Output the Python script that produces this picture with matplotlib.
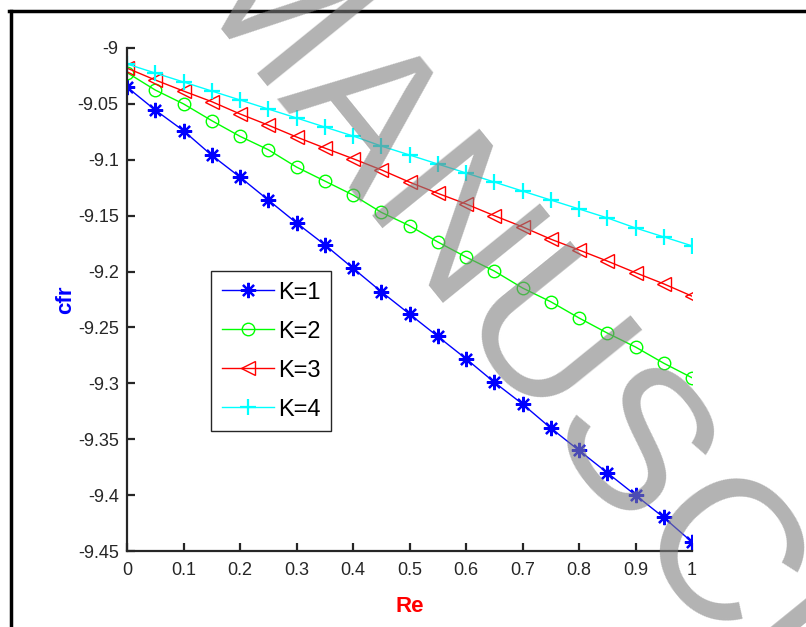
import matplotlib
matplotlib.use('Agg')
import matplotlib.pyplot as plt
from matplotlib import font_manager
from matplotlib.lines import Line2D
from matplotlib.ticker import FixedLocator, FixedFormatter

plt.rcParams['font.family'] = ['Liberation Sans', 'DejaVu Sans']

# Re values (x axis)
re = [0.0, 0.05, 0.1, 0.15, 0.2, 0.25, 0.3, 0.35, 0.4, 0.45, 0.5,
      0.55, 0.6, 0.65, 0.7, 0.75, 0.8, 0.85, 0.9, 0.95, 1.0]

# cfr for each K
cfr_k1 = [-9.035, -9.0555, -9.074, -9.096, -9.1155, -9.136, -9.1565, -9.176,
          -9.197, -9.218, -9.238, -9.258, -9.278, -9.299, -9.3185, -9.340,
          -9.360, -9.380, -9.400, -9.420, -9.442]
cfr_k2 = [-9.022, -9.0376, -9.050, -9.065, -9.079, -9.091, -9.1065, -9.119,
          -9.1315, -9.147, -9.159, -9.1735, -9.187, -9.1995, -9.2147, -9.227,
          -9.2415, -9.255, -9.2675, -9.282, -9.295]
cfr_k3 = [-9.018, -9.0286, -9.0385, -9.048, -9.059, -9.069, -9.0796, -9.0895,
          -9.099, -9.109, -9.120, -9.130, -9.1395, -9.150, -9.160, -9.171,
          -9.1807, -9.1906, -9.201, -9.211, -9.222]
cfr_k4 = [-9.0143, -9.0224, -9.0304, -9.0385, -9.0465, -9.0546, -9.0626,
          -9.0707, -9.0787, -9.0877, -9.0957, -9.1038, -9.1118, -9.1199,
          -9.128, -9.136, -9.144, -9.152, -9.161, -9.169, -9.177]

labels = ['K=1', 'K=2', 'K=3', 'K=4']

xticks = [0, 0.1, 0.2, 0.3, 0.4, 0.5, 0.6, 0.7, 0.8, 0.9, 1]
xtick_labels = ['0', '0.1', '0.2', '0.3', '0.4', '0.5', '0.6', '0.7', '0.8', '0.9', '1']
yticks = [-9, -9.05, -9.1, -9.15, -9.2, -9.25, -9.3, -9.35, -9.4, -9.45]
ytick_labels = ['-9', '-9.05', '-9.1', '-9.15', '-9.2', '-9.25', '-9.3', '-9.35', '-9.4', '-9.45']

fig = plt.figure(figsize=(8.06, 6.27), dpi=100)
ax = fig.add_axes([127 / 806, 1 - 551 / 627, 565 / 806, 503 / 627])

ax.plot(re, cfr_k1, color='#0000ff', lw=1, marker=(8, 2, 0), ms=11, mew=1.6, label=labels[0])
ax.plot(re, cfr_k2, color='#00ff00', lw=1, marker='o', ms=9, mfc='none', mew=1, label=labels[1])
ax.plot(re, cfr_k3, color='#ff0000', lw=1, marker='<', ms=9.5, mfc='none', mew=1, label=labels[2])
ax.plot(re, cfr_k4, color='#00ffff', lw=1, marker='+', ms=11, mew=1.6, label=labels[3])

ax.set_xlim(0, 1)
ax.set_ylim(-9.45, -9)
ax.xaxis.set_major_locator(FixedLocator(xticks))
ax.xaxis.set_major_formatter(FixedFormatter(xtick_labels))
ax.yaxis.set_major_locator(FixedLocator(yticks))
ax.yaxis.set_major_formatter(FixedFormatter(ytick_labels))

for s in ['top', 'right']:
    ax.spines[s].set_visible(False)
for s in ['left', 'bottom']:
    ax.spines[s].set_linewidth(1.6)
    ax.spines[s].set_color('#262626')
ax.tick_params(direction='in', length=6, width=1.6, color='#262626',
               labelsize=13, labelcolor='#262626')
ax.tick_params(axis='x', pad=8)
ax.tick_params(axis='y', pad=6)

ax.set_xlabel('Re', color='#ff0000', fontsize=16, fontweight='bold', labelpad=12)
ax.set_ylabel('cfr', color='#0000ff', fontsize=16, fontweight='bold', labelpad=1)

leg = ax.legend(loc='upper left', bbox_to_anchor=(211 / 806, 1 - 271 / 627),
                bbox_transform=fig.transFigure, fontsize=17, fancybox=False,
                edgecolor='#262626', framealpha=1, handlelength=2.2,
                handletextpad=0.2, labelspacing=0.72, borderpad=0.45,
                borderaxespad=0)
leg.get_frame().set_linewidth(1)

# page frame
fig.add_artist(Line2D([10.5 / 806, 10.5 / 806], [0, 1 - 10.5 / 627],
                      transform=fig.transFigure, color='black', lw=2.5))
fig.add_artist(Line2D([9 / 806, 1], [1 - 10.5 / 627, 1 - 10.5 / 627],
                      transform=fig.transFigure, color='black', lw=2.5))

# watermark (tall narrow letters if the narrow face is there)
names = {f.name for f in font_manager.fontManager.ttflist}
if 'Liberation Sans Narrow' in names:
    wm_family, wm_size = ['Liberation Sans Narrow'], 172
else:
    wm_family, wm_size = ['Liberation Sans'], 145
fig.text(640 / 806, 1 - 452 / 627, 'MANUSCRIPT', family=wm_family,
         fontsize=wm_size, color='0.5', alpha=0.6, rotation=-51,
         ha='center', va='center_baseline', rotation_mode='anchor', zorder=10)

fig.savefig('out.png', dpi=100)
